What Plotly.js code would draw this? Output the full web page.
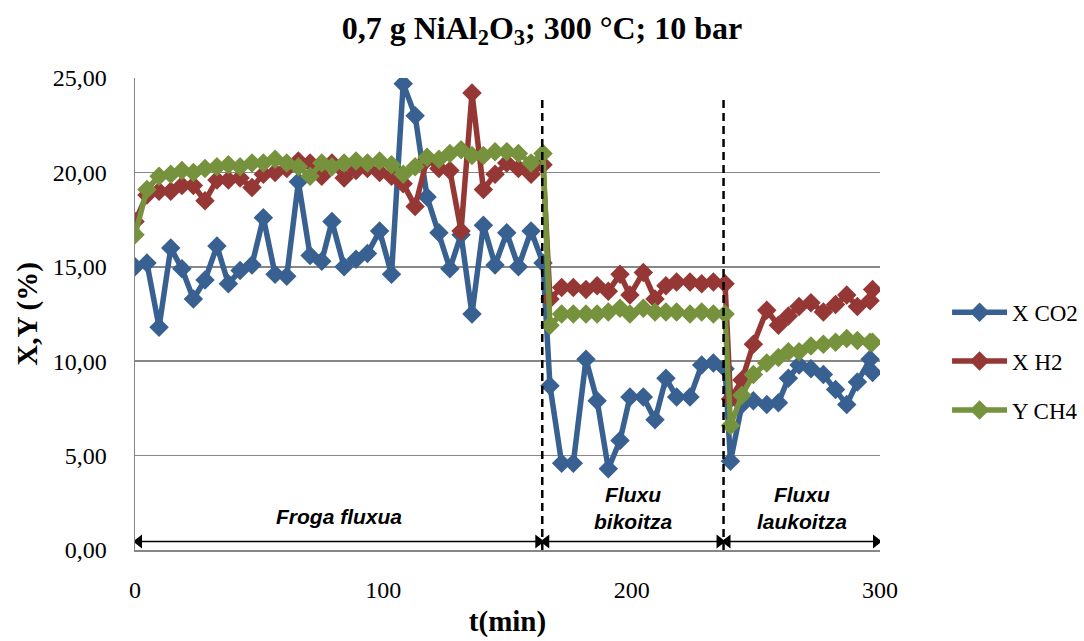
<!DOCTYPE html>
<html><head><meta charset="utf-8">
<script src="https://cdn.plot.ly/plotly-3.0.1.min.js"></script>
<style>html,body{margin:0;padding:0;background:#fff}#chart{width:1084px;height:641px}</style>
</head><body><div id="chart"></div>
<script>
// time (min)
const tMin = [
  0, 4.8, 9.7, 14.4, 18.9, 23.5, 28.2, 33.0, 37.6, 42.3, 47.1, 51.7, 56.4, 61.1, 65.8, 70.5, 75.2, 79.3,
  84.2, 89.0, 93.6, 98.5, 103.3, 108.0, 112.8, 117.6, 122.4, 126.8, 131.3, 135.7, 140.3, 145.0, 149.7, 154.4, 159.5, 164.3,
  167.1, 171.8, 176.5, 181.6, 186.1, 190.6, 195.3, 199.3, 204.7, 209.4, 213.8, 218.1, 223.5, 228.2, 232.9, 237.6,
  239.8, 244.4, 249.0, 254.4, 259.1, 263.1, 267.4, 272.2, 277.2, 282.1, 286.6, 290.9, 296.0, 297.0
];
const xCO2 = [
  15.0, 15.2, 11.8, 16.0, 14.9, 13.3, 14.3, 16.1, 14.1, 14.8, 15.1, 17.6, 14.6, 14.5, 19.5, 15.6, 15.3, 17.4,
  15.0, 15.4, 15.7, 16.9, 14.6, 24.7, 23.0, 18.7, 16.8, 14.9, 16.7, 12.5, 17.2, 15.1, 16.8, 15.0, 16.9, 15.2,
  8.7, 4.6, 4.6, 10.1, 7.9, 4.3, 5.8, 8.1, 8.1, 6.9, 9.1, 8.1, 8.1, 9.8, 9.9, 9.6,
  4.7, 7.7, 7.9, 7.7, 7.8, 9.1, 9.8, 9.6, 9.3, 8.5, 7.7, 8.9, 10.1, 9.4
];
const xH2 = [
  17.4, 18.8, 19.0, 19.0, 19.3, 19.3, 18.5, 19.6, 19.6, 19.7, 19.2, 19.9, 20.0, 20.2, 20.6, 20.5, 19.8, 20.5,
  19.7, 20.1, 20.2, 20.0, 19.8, 19.4, 18.2, 20.7, 20.2, 20.1, 16.9, 24.2, 19.1, 19.9, 20.5, 20.2, 19.9, 20.4,
  13.3, 13.9, 13.9, 13.8, 14.0, 13.7, 14.6, 13.5, 14.7, 13.3, 14.0, 14.2, 14.2, 14.1, 14.2, 14.1,
  8.0, 9.0, 10.9, 12.7, 11.9, 12.4, 12.9, 13.1, 12.6, 13.0, 13.5, 12.9, 13.2, 13.8
];
const yCH4 = [
  16.7, 19.1, 19.8, 19.9, 20.1, 20.0, 20.2, 20.3, 20.4, 20.3, 20.5, 20.5, 20.7, 20.5, 20.3, 19.8, 20.5, 20.3,
  20.5, 20.6, 20.5, 20.6, 20.4, 19.9, 20.3, 20.8, 20.7, 21.0, 21.2, 20.9, 20.9, 21.1, 21.1, 21.0, 20.5, 21.0,
  11.9, 12.5, 12.5, 12.5, 12.5, 12.6, 12.8, 12.5, 12.8, 12.6, 12.6, 12.6, 12.5, 12.6, 12.5, 12.5,
  6.6, 8.2, 9.3, 9.9, 10.2, 10.5, 10.5, 10.8, 10.9, 11.0, 11.2, 11.1, 11.0, 11.0
];
const seriesNames = ['X CO2', 'X H2', 'Y CH4'];
const boundaries = [164, 237];
const regionStarts = [0, 164, 237];
const regionEnds = [164, 237, 300];
const regionLabels = ['Froga fluxua', 'Fluxu<br>bikoitza', 'Fluxu<br>laukoitza'];
const arrowLevel = 0.45;
const xTicks = [0, 100, 200, 300];
const yTicks = [0, 5, 10, 15, 20, 25];

const serif = 'Liberation Serif, DejaVu Serif, serif';
const colors = ['#386192', '#953735', '#76923c'];
const series = [xCO2, xH2, yCH4];

const traces = series.map((vals, i) => ({
  x: tMin, y: vals, name: seriesNames[i], type: 'scatter', mode: 'lines+markers',
  line: {color: colors[i], width: 5.5},
  marker: {symbol: 'diamond', size: 15, color: colors[i]},
  legendgroup: 'g' + i
}));

// double-headed arrows for the three regimes
const arrowTraces = regionStarts.map((s, i) => ({
  x: [s + 1.6, regionEnds[i] - 1.6], y: [arrowLevel, arrowLevel],
  type: 'scatter', mode: 'lines+markers', showlegend: false, hoverinfo: 'skip',
  line: {color: '#000', width: 1.4},
  marker: {symbol: ['triangle-left', 'triangle-right'], size: 12, color: '#000', line: {width: 0}}
}));

const shapes = boundaries.map(b => ({
  type: 'line', xref: 'x', yref: 'y', x0: b, x1: b, y0: 0, y1: 24.1,
  line: {color: '#000', width: 2.5, dash: '8px,5px'}
}));

const annotations = regionLabels.map((lab, i) => ({
  xref: 'x', yref: 'y', x: (regionStarts[i] + regionEnds[i]) / 2,
  y: lab.indexOf('<br>') >= 0 ? 2.2 : 1.8, yanchor: 'middle',
  text: '<b><i>' + lab + '</i></b>', showarrow: false,
  font: {family: 'Liberation Sans, Arial, sans-serif', size: 21, color: '#000'}
}));

const layout = {
  width: 1084, height: 641,
  margin: {l: 135, r: 204, t: 78, b: 91, autoexpand: false},
  paper_bgcolor: '#fff', plot_bgcolor: '#fff',
  separators: ',.',
  font: {family: serif, size: 20, color: '#000'},
  title: {text: '<b>0,7 g NiAl<sub>2</sub>O<sub>3</sub>; 300 °C; 10 bar</b>', x: 0.5, xref: 'container',
    y: 0.957, yref: 'container', yanchor: 'middle', font: {family: serif, size: 32, color: '#000'}},
  xaxis: {range: [0, 300], tickvals: xTicks, tickformat: 'd', showgrid: false, zeroline: false,
    showline: true, linecolor: '#878787', linewidth: 1.5, ticks: '', ticklabelstandoff: 18,
    tickfont: {family: serif, size: 24, color: '#000'},
    title: {text: '<b>t(min)</b>', standoff: 8, font: {family: serif, size: 29, color: '#000'}}},
  yaxis: {range: [0, 25], tickvals: yTicks, tickformat: '.2f', showgrid: true, gridcolor: '#878787', gridwidth: 1.5,
    zeroline: false, showline: true, linecolor: '#878787', linewidth: 1.5, ticks: '', ticklabelstandoff: 22,
    tickfont: {family: serif, size: 24, color: '#000'},
    title: {text: '<b>X,Y (%)</b>', standoff: 6, font: {family: serif, size: 29, color: '#000'}}},
  showlegend: true,
  legend: {x: 1.09, xanchor: 'left', y: 0.4, yanchor: 'middle', itemwidth: 55, tracegroupgap: 16,
    font: {family: serif, size: 23, color: '#000'}, bgcolor: 'rgba(0,0,0,0)'},
  shapes: shapes, annotations: annotations
};

Plotly.newPlot('chart', traces.concat(arrowTraces), layout, {displayModeBar: false, staticPlot: true});
</script></body></html>
